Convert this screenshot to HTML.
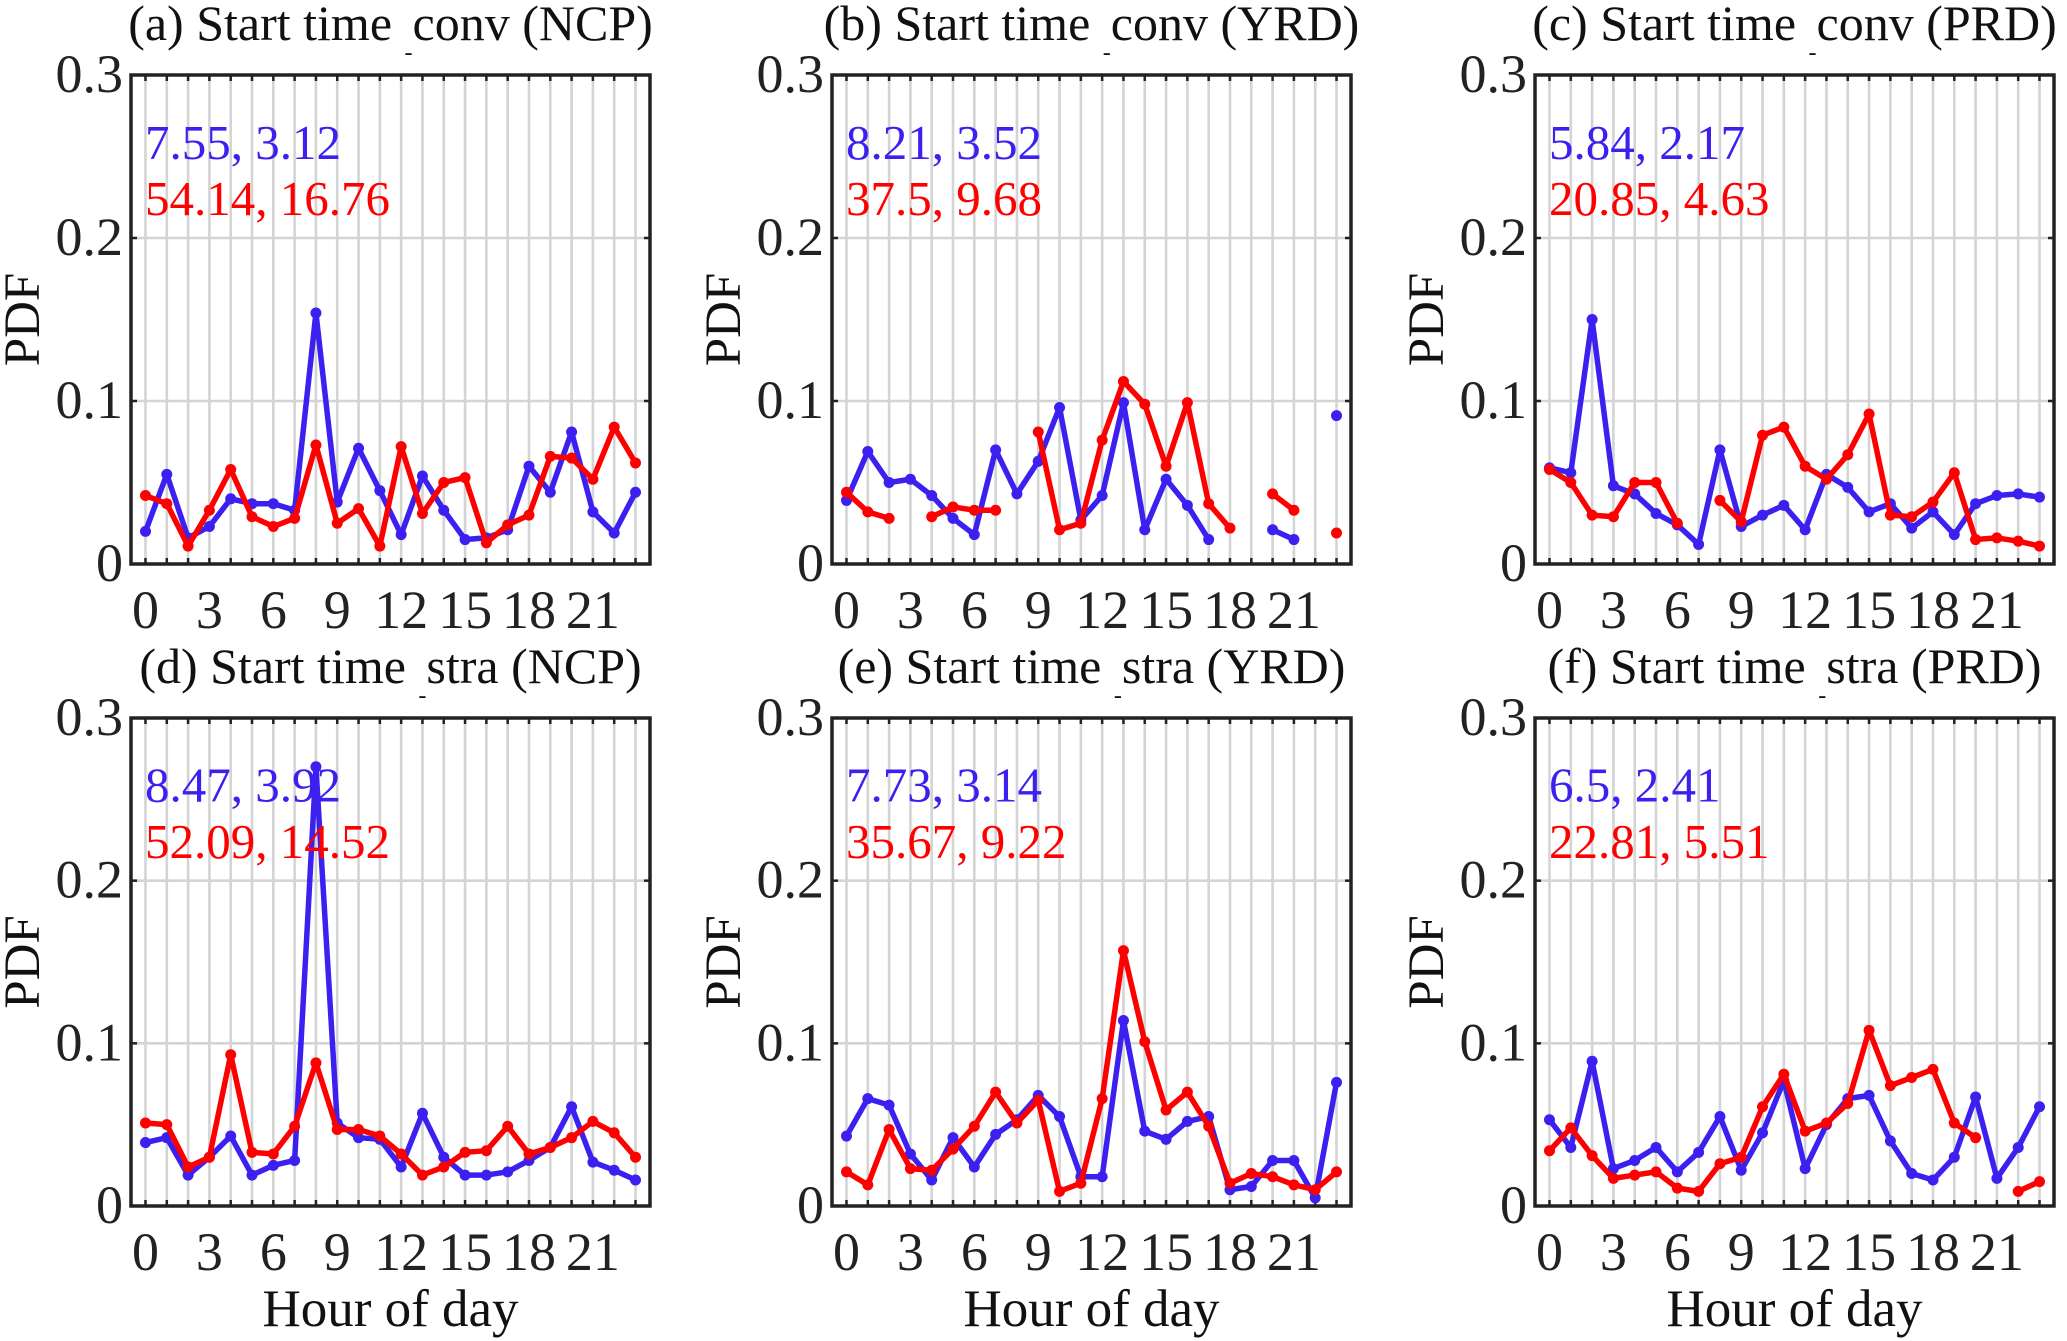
<!DOCTYPE html>
<html><head><meta charset="utf-8"><style>
html,body{margin:0;padding:0;background:#fff;}
svg{display:block;font-family:"Liberation Serif","Times New Roman",serif;}
</style></head><body>
<svg id="fig" width="2067" height="1341" viewBox="0 0 2067 1341" xmlns="http://www.w3.org/2000/svg"></svg>
<script>
const hours = [0,1,2,3,4,5,6,7,8,9,10,11,12,13,14,15,16,17,18,19,20,21,22,23];
const xTickLabels = ["0","3","6","9","12","15","18","21"];
const yTickValues = [0,0.1,0.2,0.3];
const yTickLabels = ["0","0.1","0.2","0.3"];
const titles = ["(a) Start time","(b) Start time","(c) Start time","(d) Start time","(e) Start time","(f) Start time"];
const titleTails = ["conv (NCP)","conv (YRD)","conv (PRD)","stra (NCP)","stra (YRD)","stra (PRD)"];
const blueNotes = ["7.55, 3.12","8.21, 3.52","5.84, 2.17","8.47, 3.92","7.73, 3.14","6.5, 2.41"];
const redNotes = ["54.14, 16.76","37.5, 9.68","20.85, 4.63","52.09, 14.52","35.67, 9.22","22.81, 5.51"];
const N = null;
const blueA = [0.020,0.055,0.016,0.023,0.040,0.037,0.037,0.033,0.154,0.038,0.071,0.045,0.018,0.054,0.033,0.015,0.016,0.021,0.060,0.044,0.081,0.032,0.019,0.044];
const redA  = [0.042,0.037,0.011,0.033,0.058,0.029,0.023,0.028,0.073,0.025,0.034,0.011,0.072,0.031,0.050,0.053,0.013,0.024,0.030,0.066,0.065,0.052,0.084,0.062];
const blueB = [0.039,0.069,0.050,0.052,0.042,0.028,0.018,0.070,0.043,0.063,0.096,0.027,0.042,0.099,0.021,0.052,0.036,0.015,N,N,0.021,0.015,N,0.091];
const redB  = [0.044,0.032,0.028,N,0.029,0.035,0.033,0.033,N,0.081,0.021,0.025,0.076,0.112,0.098,0.060,0.099,0.037,0.022,N,0.043,0.033,N,0.019];
const blueC = [0.059,0.056,0.150,0.048,0.043,0.031,0.024,0.012,0.070,0.023,0.030,0.036,0.021,0.055,0.047,0.032,0.037,0.022,0.032,0.018,0.037,0.042,0.043,0.041];
const redC  = [0.058,0.050,0.030,0.029,0.050,0.050,0.025,N,0.039,0.026,0.079,0.084,0.060,0.052,0.067,0.092,0.030,0.029,0.038,0.056,0.015,0.016,0.014,0.011];
const blueD = [0.039,0.042,0.019,0.030,0.043,0.019,0.025,0.028,0.270,0.051,0.042,0.041,0.024,0.057,0.030,0.019,0.019,0.021,0.028,0.036,0.061,0.027,0.022,0.016];
const redD  = [0.051,0.050,0.024,0.030,0.093,0.033,0.032,0.049,0.088,0.047,0.047,0.043,0.032,0.019,0.024,0.033,0.034,0.049,0.032,0.036,0.042,0.052,0.045,0.030];
const blueE = [0.043,0.066,0.062,0.032,0.016,0.042,0.024,0.044,0.053,0.068,0.055,0.018,0.018,0.114,0.046,0.041,0.052,0.055,0.010,0.012,0.028,0.028,0.005,0.076];
const redE  = [0.021,0.013,0.047,0.023,0.022,0.035,0.049,0.070,0.051,0.065,0.009,0.014,0.066,0.157,0.101,0.059,0.070,0.049,0.014,0.020,0.018,0.013,0.010,0.021];
const blueF = [0.053,0.036,0.089,0.023,0.028,0.036,0.021,0.033,0.055,0.022,0.045,0.077,0.023,0.050,0.066,0.068,0.040,0.020,0.016,0.030,0.067,0.017,0.036,0.061];
const redF  = [0.034,0.048,0.031,0.017,0.019,0.021,0.011,0.009,0.026,0.030,0.061,0.081,0.046,0.051,0.063,0.108,0.074,0.079,0.084,0.051,0.042,N,0.009,0.015];
const blueSeries = [blueA,blueB,blueC,blueD,blueE,blueF];
const redSeries = [redA,redB,redC,redD,redE,redF];

const NS = "http://www.w3.org/2000/svg";
const svg = document.getElementById('fig');
function mk(tag, attrs, parent){ const e=document.createElementNS(NS,tag); for(const k in attrs) e.setAttribute(k,attrs[k]); (parent||svg).appendChild(e); return e; }

const lefts = [131,832,1535];
const rows = [{top:75,bottom:564},{top:718,bottom:1206}];
const W = 519, XMIN=-0.68, XMAX=23.68, YMAX=0.3;
const BLUE="#3c20f0", RED="#ff0000";

for(let p=0;p<6;p++){
  const L = lefts[p%3], R=L+W, r=rows[Math.floor(p/3)], T=r.top, B=r.bottom;
  const sx = v => L + (v-XMIN)/(XMAX-XMIN)*W;
  const sy = v => B - v/YMAX*(B-T);
  const g = mk('g',{});
  
  
  hours.forEach(h=>{ const l=mk('line',{x1:sx(h),x2:sx(h),y1:T,y2:B,stroke:'#d4d4d4','stroke-width':2.6},g);
      });
  [0.1,0.2].forEach(v=>{ const l=mk('line',{x1:L,x2:R,y1:sy(v),y2:sy(v),stroke:'#d4d4d4','stroke-width':2.6},g);
      });
  hours.forEach(h=>{
    mk('line',{x1:sx(h),x2:sx(h),y1:B,y2:B-6,stroke:'#222','stroke-width':2.5},g);
    mk('line',{x1:sx(h),x2:sx(h),y1:T,y2:T+6,stroke:'#222','stroke-width':2.5},g);
  });
  yTickValues.forEach((v,i)=>{
    mk('line',{x1:L,x2:L+6,y1:sy(v),y2:sy(v),stroke:'#222','stroke-width':2.5},g);
    mk('line',{x1:R,x2:R-6,y1:sy(v),y2:sy(v),stroke:'#222','stroke-width':2.5},g);
    const t=mk('text',{x:L-8,y:sy(v)+17,'text-anchor':'end','font-size':54,fill:'#222'},g);
    t.textContent=yTickLabels[i];
     
  });
  xTickLabels.forEach(lbl=>{
    const t=mk('text',{x:sx(+lbl),y:B+64,'text-anchor':'middle','font-size':54,fill:'#222'},g);
    t.textContent=lbl;
     
  });
  [[blueSeries[p],BLUE,'blue'],[redSeries[p],RED,'red']].forEach(([arr,col,nm])=>{
    let seg=[];
    const flush=()=>{ if(seg.length>1){ const pl=mk('polyline',{points:seg.join(' '),fill:'none',stroke:col,'stroke-width':5.5,'stroke-linejoin':'round'},g);
          } seg=[]; };
    arr.forEach((v,i)=>{ if(v===null){flush();return;} seg.push(sx(hours[i])+','+sy(v)); });
    flush();
    arr.forEach((v,i)=>{ if(v===null) return;
      const c=mk('circle',{cx:sx(hours[i]),cy:sy(v),r:5.5,fill:col},g);
        });
  });
  const fr=mk('rect',{x:L,y:T,width:W,height:B-T,fill:'none',stroke:'#222','stroke-width':3.5},g);
   
  const bn=mk('text',{x:L+14,y:sy(0.259)+17,'font-size':49,fill:BLUE},g);
  bn.textContent=blueNotes[p];
   
  const rn=mk('text',{x:L+14,y:sy(0.2245)+17,'font-size':49,fill:RED},g);
  rn.textContent=redNotes[p];
   
  const tt=mk('text',{x:L+W/2,y:T-35,'text-anchor':'middle','font-size':50,fill:'#111'},g);
   
  const s1=mk('tspan',{},tt); s1.textContent=titles[p]+' ';
  const s2=mk('tspan',{dy:20,'font-size':24},tt); s2.textContent='-';
  const s3=mk('tspan',{dy:-20},tt); s3.textContent=titleTails[p];
  const yl=mk('text',{x:0,y:0,'text-anchor':'middle','font-size':51,fill:'#111',transform:`translate(${L-92},${(T+B)/2}) rotate(-90)`},g);
  yl.textContent='PDF';
   
  if(p>=3){
    const xl=mk('text',{x:L+W/2,y:B+120,'text-anchor':'middle','font-size':53,fill:'#111'},g);
    xl.textContent='Hour of day';
     
  }
}
</script>
</body></html>
